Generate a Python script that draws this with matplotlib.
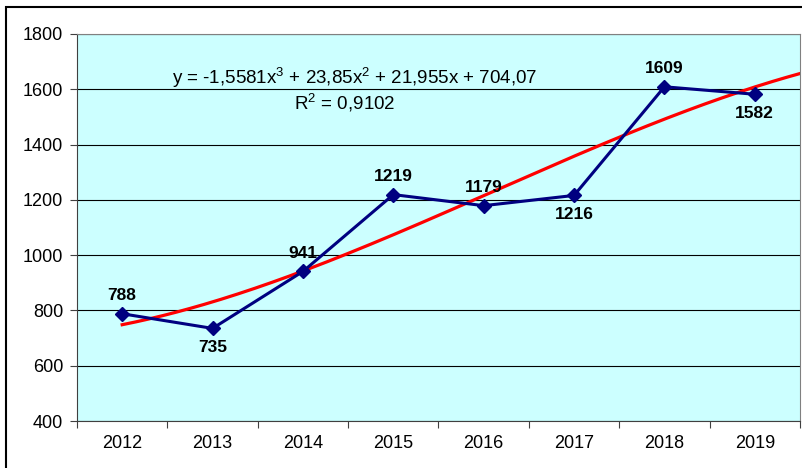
import matplotlib.pyplot as plt
import numpy as np
from matplotlib.patches import Rectangle

years = ["2012", "2013", "2014", "2015", "2016", "2017", "2018", "2019"]
values = [788, 735, 941, 1219, 1179, 1216, 1609, 1582]
label_pos = ["above", "below", "above", "above", "above", "below", "above", "below"]
trend_coefs = [-1.5581, 23.85, 21.955, 704.07]  # cubic trendline as printed on chart

plt.rcParams["font.family"] = ["Liberation Sans", "DejaVu Sans"]
plt.rcParams["mathtext.fontset"] = "custom"
plt.rcParams["mathtext.rm"] = "Liberation Sans"

fig = plt.figure(figsize=(8.03, 4.68), dpi=100)
ax = fig.add_axes([77 / 803, 1 - 421 / 468, (800 - 77) / 803, (421 - 34) / 468])
ax.set_facecolor("#CCFFFF")

# outer chart border
fig.patches.append(Rectangle((6 / 803, -0.1), 1.2, 1 - 7 / 468 + 0.1, transform=fig.transFigure,
                             fill=False, edgecolor="black", linewidth=1.5))

x = np.arange(1, len(years) + 1)
xt = np.linspace(1, len(years) + 0.5, 200)
ax.plot(xt, np.polyval(trend_coefs, xt), color="#FF0000", linewidth=2.3, zorder=2)
ax.plot(x, values, color="#000080", linewidth=2.2, marker="D", markersize=7, zorder=3)

for xi, v, p in zip(x, values, label_pos):
    dy = 13 if p == "above" else -14
    ax.annotate(str(v), (xi, v), xytext=(0, dy), textcoords="offset points",
                ha="center", va="center", fontsize=12.5, fontweight="bold")

fig.text(355 / 803, 1 - 78 / 468, "y = -1,5581x$^3$ + 23,85x$^2$ + 21,955x + 704,07",
         ha="center", va="center", fontsize=13.5)
fig.text(345 / 803, 1 - 103 / 468, "R$^2$ = 0,9102", ha="center", va="center", fontsize=13.5)

ax.set_xlim(0.5, len(years) + 0.5)
ax.set_ylim(400, 1800)
ax.set_yticks(np.arange(400, 1801, 200))
ax.yaxis.grid(True, color="black", linewidth=0.8)
ax.set_axisbelow(True)

ax.set_xticks(np.arange(0.5, len(years) + 1, 1))
ax.set_xticklabels([])
ax.set_xticks(x, minor=True)
ax.set_xticklabels(years, minor=True)
ax.tick_params(axis="x", which="minor", length=0, pad=10, labelsize=13)
ax.tick_params(axis="x", which="major", length=5, color="#404040")
ax.tick_params(axis="y", length=5, labelsize=13, color="#404040", pad=5)

for s in ["left", "bottom"]:
    ax.spines[s].set_color("#404040")
for s in ["top", "right"]:
    ax.spines[s].set_color("#808080")

fig.savefig("out.png", dpi=100)
